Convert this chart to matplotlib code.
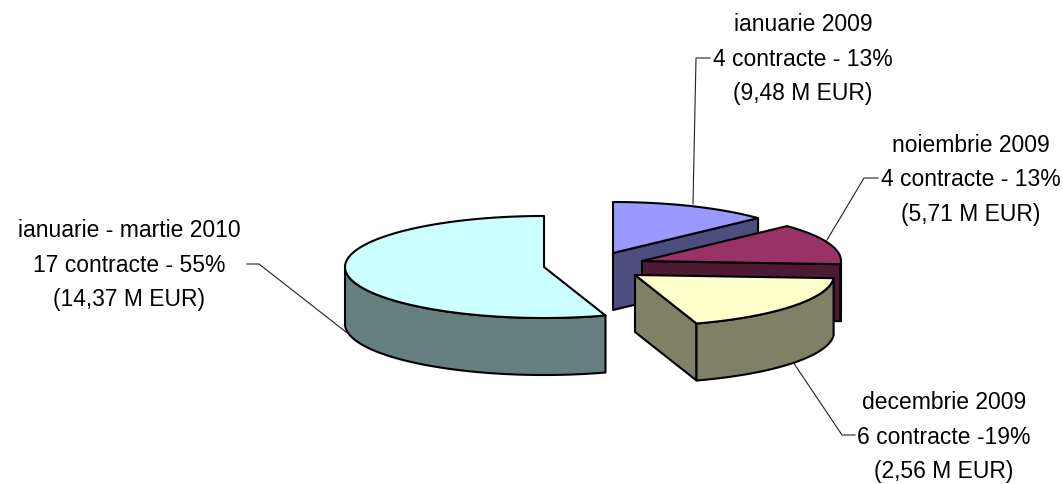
import numpy as np
import matplotlib
matplotlib.use('Agg')
import matplotlib.pyplot as plt
from matplotlib.patches import Polygon

# slices in pie order, counter clockwise from the top
periods = ['ianuarie - martie 2010', 'decembrie 2009', 'noiembrie 2009', 'ianuarie 2009']
contracts = ['17 contracte - 55%', '6 contracte -19%', '4 contracte - 13%', '4 contracte - 13%']
amounts = ['(14,37 M EUR)', '(2,56 M EUR)', '(5,71 M EUR)', '(9,48 M EUR)']
shares = [55, 19, 13, 13]

top_colors = ['#CCFFFF', '#FFFFCC', '#993366', '#9999FF']
side_colors = ['#668080', '#808066', '#4D1A33', '#4D4D80']

# layout, in pixels of the picture
centers = [(544, 267), (635, 275), (642, 261), (613, 253)]
label_pos = [(129, 265), (944, 437), (971, 180), (803, 59)]
leaders = [
    [(247, 264), (259, 264), (346, 332)],
    [(793, 362), (842, 435), (855, 435)],
    [(827, 240), (864, 178), (878, 178)],
    [(693, 204), (696, 58), (710, 58)],
]
rx, ry, depth = 199, 51, 57
draw_order = [3, 2, 0, 1]


def rim(center, a0, a1):
    # points of the ellipse between two angles (degrees)
    t = np.radians(np.linspace(a0, a1, max(2, int(abs(a1 - a0)) * 2)))
    return np.column_stack([center[0] + rx * np.cos(t), center[1] - ry * np.sin(t)])


def draw_slice(ax, center, a0, a1, top, side):
    apex = np.array(center, dtype=float)
    down = np.array([0, depth])
    lw = 1.5

    # cut faces turned towards the viewer
    for ang, normal in ((a0, a0 - 90), (a1, a1 + 90)):
        if np.sin(np.radians(normal)) < -1e-9:
            end = rim(center, ang, ang + 1)[0]
            face = [apex, end, end + down, apex + down]
            ax.add_patch(Polygon(face, closed=True, facecolor=side, edgecolor='black', lw=lw, joinstyle='round'))

    # outer wall, only the front half of the ellipse shows
    lo, hi = max(a0, 180), min(a1, 360)
    if hi > lo:
        edge = rim(center, lo, hi)
        wall = np.vstack([edge, edge[::-1] + down])
        ax.add_patch(Polygon(wall, closed=True, facecolor=side, edgecolor='black', lw=lw, joinstyle='round'))

    outline = np.vstack([[apex], rim(center, a0, a1)])
    ax.add_patch(Polygon(outline, closed=True, facecolor=top, edgecolor='black', lw=lw, joinstyle='round'))


fig = plt.figure(figsize=(10.63, 4.84), dpi=100)
ax = fig.add_axes([0, 0, 1, 1])
ax.set_xlim(0, 1063)
ax.set_ylim(484, 0)
ax.axis('off')

angles = 90 + np.cumsum([0] + [s * 3.6 for s in shares])

for pts in leaders:
    xs, ys = zip(*pts)
    ax.plot(xs, ys, color='#222222', lw=0.8, zorder=1)

for i in draw_order:
    draw_slice(ax, centers[i], angles[i], angles[i + 1], top_colors[i], side_colors[i])

for i in range(len(shares)):
    text = periods[i] + '\n' + contracts[i] + '\n' + amounts[i]
    ax.text(label_pos[i][0], label_pos[i][1], text, ha='center', va='center', fontsize=16.5,
            family='Liberation Sans', color='black', linespacing=1.64, zorder=5)

fig.savefig('out.png', dpi=100)
